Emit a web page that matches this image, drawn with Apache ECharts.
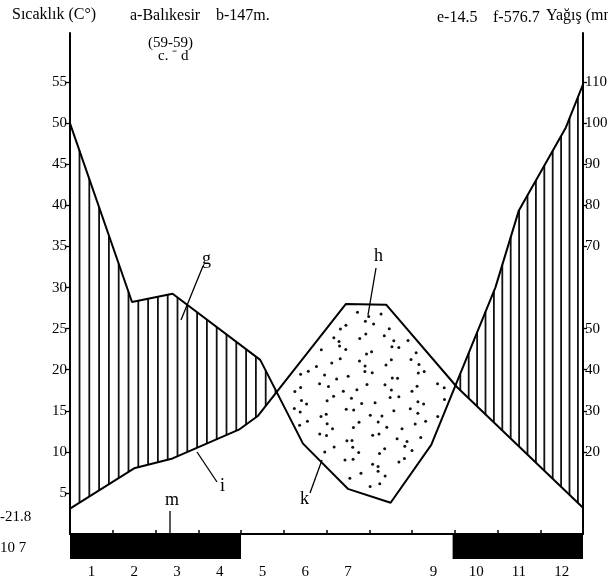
<!DOCTYPE html>
<html>
<head>
<meta charset="utf-8">
<script src="https://cdn.jsdelivr.net/npm/echarts@6/dist/echarts.min.js"></script>
<style>
  html, body { margin: 0; padding: 0; background: #fff; }
  #chart { width: 608px; height: 587px; }
</style>
</head>
<body>
<div id="chart"></div>
<script>
// positions along the year: 0.5 = left edge, 12.5 = right edge
const tempMonth = [0.5, 2, 2.9, 4.45, 4.9, 6.95, 7.9, 9.55, 12.5]
const tempC = [3.1, 8.0, 9.2, 12.7, 14.4, 28.0, 27.9, 17.9, 3.2]
const rainMonth = [0.5, 1.95, 2.9, 4.95, 5.95, 7.0, 8.0, 8.95, 10.45, 11.0, 12.1, 12.5]
const rainMm = [100, 56.5, 58.5, 42.4, 22, 11, 7.6, 21.7, 60, 78.8, 99, 109.5]

const monthLabels = [1, 2, 3, 4, 5, 6, 7, 9, 10, 11, 12]
const monthTicks = [1.5, 2.5, 3.5, 4.5, 5.5, 6.5, 7.5, 8.5, 9.5, 10.5, 11.5]
const tempTicks = [5, 10, 15, 20, 25, 30, 35, 40, 45, 50, 55]
const rainTicks = [20, 30, 40, 50, 70, 80, 90, 100, 110]
// frost period (black bars under the axis)
const frostBars = [[0.5, 4.5], [9.45, 12.5]]

const rainHalf = rainMm.map((v) => v / 2) // 10 mm = 5 °C

function interp(xs, ys, x) {
  for (let i = 1; i < xs.length; i++) {
    if (x <= xs[i]) {
      const f = (x - xs[i - 1]) / (xs[i] - xs[i - 1])
      return ys[i - 1] + f * (ys[i] - ys[i - 1])
    }
  }
  return ys[ys.length - 1]
}

const serif = 'Liberation Serif'

// hatching (humid) and dots (arid) between the two curves
function renderFill(params, api) {
  const children = []
  const a = api.coord([0.5, 0])
  const b = api.coord([12.5, 0])
  const c = api.coord([0.5, 10])
  const pxM = (b[0] - a[0]) / 12
  const pxV = (a[1] - c[1]) / 10

  let px = a[0] + 9.5
  while (px < b[0] - 1) {
    const m = 0.5 + (px - a[0]) / pxM
    const r = interp(rainMonth, rainHalf, m)
    const t = interp(tempMonth, tempC, m)
    if (r > t) {
      const p = api.coord([m, r])
      const q = api.coord([m, t])
      children.push({
        type: 'line',
        shape: { x1: p[0], y1: p[1], x2: q[0], y2: q[1] },
        style: { stroke: '#111', lineWidth: 1.8 }
      })
    }
    px += m < 6.5 ? 9.8 : 8.4
  }

  let row = 0
  for (let py = a[1] - 30 * pxV; py < a[1]; py += 12.5) {
    let col = 0
    for (let qx = a[0] + (row % 2 ? 6.5 : 0); qx < b[0]; qx += 13) {
      const jx = 4 * Math.sin(row * 12.9898 + col * 78.233)
      const jy = 4 * Math.sin(row * 39.346 + col * 11.135)
      const x = qx + jx
      const y = py + jy
      const m = 0.5 + (x - a[0]) / pxM
      const v = (a[1] - y) / pxV
      const r = interp(rainMonth, rainHalf, m)
      const t = interp(tempMonth, tempC, m)
      if (t - v > 0.8 && v - r > 0.8) {
        children.push({
          type: 'circle',
          shape: { cx: x, cy: y, r: 1.5 },
          style: { fill: '#111' }
        })
      }
      col++
    }
    row++
  }
  return { type: 'group', children: children }
}

function renderBar(params, api) {
  const s = api.coord([api.value(0), 0])
  const e = api.coord([api.value(1), 0])
  return {
    type: 'rect',
    shape: { x: s[0], y: s[1] + 1, width: e[0] - s[0], height: 24 },
    style: { fill: '#000' }
  }
}

function txt(x, y, s, size) {
  return {
    type: 'text',
    left: x,
    top: y,
    style: { text: s, font: (size || 13) + 'px "' + serif + '"', fill: '#000' }
  }
}
function lead(x1, y1, x2, y2) {
  return {
    type: 'line',
    shape: { x1: x1, y1: y1, x2: x2, y2: y2 },
    style: { stroke: '#000', lineWidth: 1.3 }
  }
}

const axisText = { color: '#000', fontFamily: serif, fontSize: 15 }

const option = {
  animation: false,
  backgroundColor: '#fff',
  grid: { left: 70, right: 25, top: 33, bottom: 53, outerBoundsMode: 'none', containLabel: false },
  xAxis: {
    type: 'value',
    min: 0.5,
    max: 12.5,
    splitLine: { show: false },
    axisLine: { lineStyle: { color: '#000', width: 2 } },
    axisTick: { customValues: monthTicks, inside: true, length: 4, lineStyle: { color: '#000', width: 1.5 } },
    axisLabel: Object.assign({ customValues: monthLabels, margin: 31 }, axisText)
  },
  yAxis: [
    {
      type: 'value',
      min: 0,
      max: 61,
      position: 'left',
      splitLine: { show: false },
      axisLine: { show: true, lineStyle: { color: '#000', width: 2 } },
      axisTick: { customValues: tempTicks, length: 4, lineStyle: { color: '#000', width: 1.3 } },
      axisLabel: Object.assign({ customValues: tempTicks, margin: 3 }, axisText)
    },
    {
      type: 'value',
      min: 0,
      max: 122,
      position: 'right',
      splitLine: { show: false },
      axisLine: { show: true, lineStyle: { color: '#000', width: 2 } },
      axisTick: { customValues: rainTicks, length: 4, lineStyle: { color: '#000', width: 1.3 } },
      axisLabel: Object.assign({ customValues: rainTicks, margin: 2 }, axisText)
    }
  ],
  series: [
    {
      type: 'custom',
      renderItem: renderFill,
      data: [[6.5, 30]],
      z: 1
    },
    {
      type: 'custom',
      renderItem: renderBar,
      data: frostBars,
      z: 2
    },
    {
      name: 'Sıcaklık',
      type: 'line',
      yAxisIndex: 0,
      symbol: 'none',
      lineStyle: { color: '#000', width: 2 },
      data: tempMonth.map((m, i) => [m, tempC[i]]),
      z: 3
    },
    {
      name: 'Yağış',
      type: 'line',
      yAxisIndex: 1,
      symbol: 'none',
      lineStyle: { color: '#000', width: 2 },
      data: rainMonth.map((m, i) => [m, rainMm[i]]),
      z: 3
    }
  ],
  graphic: [
    txt(12, 7, 'Sıcaklık (C°)', 16),
    txt(130, 8, 'a-Balıkesir', 16),
    txt(216, 8, 'b-147m.', 16),
    txt(437, 10, 'e-14.5', 16),
    txt(493, 10, 'f-576.7', 16),
    txt(546, 8, 'Yağış (mm)', 16),
    txt(148, 36, '(59-59)', 15),
    txt(158, 49, 'c. ⁻ d', 15),
    txt(0, 510, '-21.8', 15),
    txt(0, 541, '10 7', 15),
    txt(202, 250, 'g', 18),
    txt(374, 247, 'h', 18),
    txt(220, 477, 'i', 18),
    txt(300, 490, 'k', 18),
    txt(165, 491, 'm', 18),
    lead(203, 266, 181, 320),
    lead(376, 268, 368, 315),
    lead(217, 482, 197, 452),
    lead(310, 493, 322, 460),
    lead(170, 511, 170, 534)
  ]
}

const chart = echarts.init(document.getElementById('chart'))
chart.setOption(option)
</script>
</body>
</html>
